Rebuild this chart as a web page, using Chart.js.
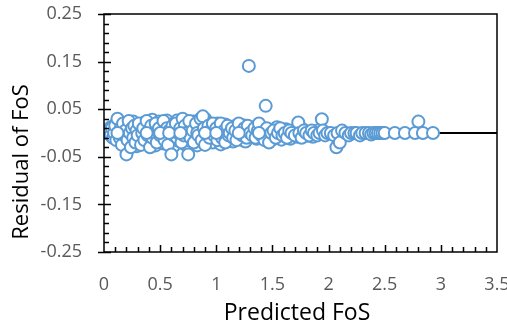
<!DOCTYPE html>
<html>
<head>
<meta charset="utf-8">
<script src="https://cdn.jsdelivr.net/npm/chart.js@4.4.0/dist/chart.umd.min.js"></script>
<style>
html, body { margin: 0; padding: 0; background: #fff; }
#wrap { width: 507px; height: 330px; }
</style>
</head>
<body>
<div id="wrap"><canvas id="chart" width="507" height="330"></canvas></div>
<script>
// values (later points are drawn on top)
const predictedFoS = [
    0.07, 0.10, 0.14, 0.17, 0.20, 0.23, 0.26, 0.29, 0.33, 0.36, 0.39, 0.43, 0.46, 0.49, 0.53, 0.56,
    0.59, 0.62, 0.65, 0.69, 0.72, 0.76, 0.80, 0.83, 0.87, 0.90, 0.94, 0.97, 1.01, 1.04, 1.08, 1.11,
    1.15, 1.18, 1.22, 1.25, 1.28, 1.33, 1.36, 1.39, 1.42, 1.46, 1.50, 1.54, 1.58, 1.62, 1.66, 1.69,
    1.72, 1.77, 1.81, 1.86, 1.91,
    0.06, 0.09, 0.11, 0.13, 0.16, 0.19, 0.21, 0.24, 0.27, 0.30, 0.32, 0.35, 0.37, 0.40, 0.42, 0.44,
    0.47, 0.50, 0.51, 0.55, 0.58, 0.60, 0.63, 0.66, 0.68, 0.70, 0.74, 0.78, 0.81, 0.85, 0.88, 0.92,
    0.96, 0.99, 1.02, 1.06, 1.09, 1.13, 1.16, 1.19, 1.21, 1.24, 1.26, 1.30,
    0.05, 0.06, 0.07, 0.08, 0.09, 0.10, 0.11, 0.12, 0.13, 0.14, 0.15, 0.16, 0.17, 0.18, 0.19, 0.20,
    0.21, 0.22, 0.23, 0.24, 0.25, 0.26, 0.27, 0.28, 0.29, 0.30,
    0.31, 0.33, 0.34, 0.35, 0.36, 0.38, 0.39, 0.40, 0.41, 0.42, 0.43, 0.45, 0.46, 0.47, 0.49, 0.50,
    0.52, 0.53, 0.54, 0.56, 0.57, 0.58, 0.60, 0.61, 0.62, 0.64, 0.65, 0.66, 0.68, 0.69, 0.70,
    0.71, 0.72, 0.73, 0.75, 0.76, 0.77, 0.79, 0.80, 0.82, 0.83, 0.84, 0.86, 0.87, 0.88, 0.89, 0.90,
    0.91, 0.93, 0.94, 0.95, 0.97, 0.98, 1.00, 1.01, 1.03, 1.04, 1.05, 1.07, 1.08, 1.10, 1.11, 1.12,
    1.14, 1.15, 1.17, 1.18, 1.20, 1.22, 1.23, 1.25, 1.27, 1.28, 1.30, 1.29,
    1.32, 1.34, 1.35, 1.37, 1.38, 1.40, 1.41, 1.43, 1.44, 1.45, 1.47, 1.49, 1.51, 1.53, 1.55, 1.57,
    1.59, 1.61, 1.63, 1.65, 1.67, 1.70, 1.73, 1.74, 1.76, 1.78, 1.80, 1.83, 1.85, 1.87, 1.90, 1.92,
    1.94, 1.95, 1.97, 1.99,
    2.02, 2.05, 2.07, 2.08, 2.10, 2.12, 2.15, 2.18, 2.20, 2.23, 2.25, 2.28, 2.30, 2.33, 2.36, 2.38,
    2.40, 2.42, 2.44, 2.46, 2.48, 2.50,
    2.59, 2.68, 2.77, 2.80, 2.84, 2.93,
    0.12, 0.38, 0.50, 0.58, 0.68, 0.90, 1.00, 1.20, 1.38
];
const residualFoS = [
    -0.008, 0.018, 0.020, 0.006, 0.020, -0.022, 0.024, -0.028, 0.012, 0.022, -0.020, 0.028, -0.026, 0.024, -0.022, 0.026,
    0.018, -0.028, 0.026, 0.004, -0.024, -0.016, 0.024, -0.026, 0.016, 0.030, 0.020, -0.020, 0.020, -0.024, 0.018, 0.012,
    -0.018, 0.010, -0.014, 0.016, -0.012, 0.012, -0.012, 0.010, 0.008, -0.010, -0.014, 0.012, -0.014, 0.008, -0.012, 0.006,
    -0.008, 0.008, -0.006, -0.008, 0.006,
    0.012, 0.002, 0.008, -0.012, 0.003, -0.018, 0.011, -0.003, -0.012, 0.008, 0.002, -0.020, 0.006, 0.013, -0.006, -0.014,
    0.004, 0.016, -0.012, 0.002, -0.008, 0.012, 0.004, -0.016, 0.022, -0.008, 0.004, 0.012, -0.006, 0.003, -0.012, 0.006,
    -0.004, 0.012, 0.004, -0.006, 0.008, -0.002, 0.014, 0.002, -0.010, 0.004, -0.018, 0.006,
    0.005, -0.005, 0.010, -0.010, 0.000, 0.015, -0.015, 0.030, 0.000, -0.010, 0.010, -0.025, 0.020, -0.005, 0.005, -0.045,
    -0.015, 0.025, 0.000, -0.030, 0.010, -0.010, 0.015, -0.020, 0.005, -0.005,
    0.020, -0.025, 0.000, 0.010, -0.015, 0.025, -0.005, 0.005, -0.030, 0.015, -0.010, 0.000, 0.020, -0.020, 0.010, -0.005,
    0.000, 0.025, -0.015, 0.010, -0.025, 0.005, -0.045, 0.015, -0.005, 0.020, -0.010, 0.000, 0.010, -0.020, 0.030,
    -0.005, 0.015, 0.000, -0.045, 0.025, -0.010, 0.005, -0.020, 0.020, 0.000, -0.005, 0.030, -0.015, 0.035, 0.010, -0.025,
    0.000, 0.015, -0.010, 0.005, 0.020, -0.005, 0.010, -0.015, 0.000, 0.020, -0.010, 0.005, -0.020, 0.015, -0.005, 0.000,
    0.010, -0.010, 0.005, -0.015, 0.020, 0.000, -0.005, 0.010, -0.010, 0.015, 0.000, 0.141,
    -0.005, 0.010, -0.010, 0.005, 0.020, -0.005, 0.000, -0.015, 0.057, 0.010, -0.020, 0.000, 0.005, -0.010, 0.000, 0.010,
    -0.005, 0.000, -0.010, 0.005, 0.000, -0.005, 0.022, 0.000, -0.010, 0.005, 0.000, -0.005, 0.005, 0.000, -0.005, 0.000,
    0.029, 0.005, -0.005, 0.000,
    0.000, -0.005, -0.030, 0.000, -0.020, 0.005, 0.000, -0.005, 0.000, 0.000, 0.000, -0.005, 0.000, 0.000, 0.000, -0.003,
    0.000, 0.000, 0.000, 0.000, 0.000, 0.000,
    0.000, 0.000, 0.000, 0.024, 0.000, 0.000,
    0.000, 0.000, 0.000, 0.000, 0.000, 0.000, 0.000, 0.000, 0.000
];
const xTickValues = [0, 0.5, 1, 1.5, 2, 2.5, 3, 3.5];
const yTickValues = [-0.25, -0.15, -0.05, 0.05, 0.15, 0.25];
const zeroLineX = [0, 3.5];
const zeroLineY = [0, 0];
const xTitle = 'Predicted FoS';
const yTitle = 'Residual of FoS';

const points = predictedFoS.map((x, i) => ({ x: x, y: residualFoS[i] }));
const zeroLine = zeroLineX.map((x, i) => ({ x: x, y: zeroLineY[i] }));

const FONT = '"Open Sans", sans-serif';

// frame, inner ticks and axis titles like the Excel chart
const framePlugin = {
    id: 'frame',
    afterDatasetsDraw(chart) {
        const ctx = chart.ctx;
        const a = chart.chartArea;
        const xs = chart.scales.x;
        const ys = chart.scales.y;
        ctx.save();
        ctx.strokeStyle = '#000';
        ctx.lineWidth = 1.5;
        ctx.strokeRect(a.left, a.top, a.right - a.left, a.bottom - a.top);

        ctx.beginPath();
        for (let i = 0; i <= 25; i++) {
            const py = Math.round(ys.getPixelForValue(-0.25 + i * 0.02)) + 0.5;
            if (i % 5 === 0) {
                ctx.moveTo(a.left - 6, py);
                ctx.lineTo(a.left + 7, py);
            } else {
                ctx.moveTo(a.left, py);
                ctx.lineTo(a.left + 5, py);
            }
        }
        for (let i = 1; i < 35; i++) {
            const px = Math.round(xs.getPixelForValue(i * 0.1)) + 0.5;
            ctx.moveTo(px, a.bottom);
            ctx.lineTo(px, a.bottom - (i % 5 === 0 ? 7 : 5));
        }
        ctx.stroke();

        ctx.fillStyle = '#000';
        ctx.font = '23px ' + FONT;
        ctx.textAlign = 'center';
        ctx.textBaseline = 'middle';
        ctx.fillText(xTitle, 297, 313);
        ctx.translate(22, 162);
        ctx.rotate(-Math.PI / 2);
        ctx.font = '22px ' + FONT;
        ctx.fillText(yTitle, 0, 0);
        ctx.restore();
    }
};

new Chart(document.getElementById('chart'), {
    type: 'scatter',
    data: {
        datasets: [
            {
                data: points,
                pointRadius: 6,
                pointBorderWidth: 2,
                pointBorderColor: '#5B9BD5',
                pointBackgroundColor: '#ffffff',
                borderColor: '#5B9BD5',
                backgroundColor: '#ffffff',
                order: 1
            },
            {
                type: 'line',
                data: zeroLine,
                showLine: true,
                pointRadius: 0,
                borderColor: '#000',
                borderWidth: 2,
                order: 2
            }
        ]
    },
    options: {
        responsive: false,
        animation: false,
        devicePixelRatio: 1,
        layout: { padding: { top: 14, right: 10, left: 0, bottom: 0 } },
        plugins: {
            legend: { display: false },
            tooltip: { enabled: false }
        },
        scales: {
            x: {
                type: 'linear',
                min: 0,
                max: 3.5,
                grid: { display: false, drawTicks: false },
                border: { display: false },
                afterBuildTicks: scale => { scale.ticks = xTickValues.map(v => ({ value: v })); },
                afterFit: scale => { scale.height = 78; scale.paddingLeft = 0; scale.paddingRight = 0; },
                ticks: {
                    color: '#595959',
                    font: { family: FONT, size: 18 },
                    padding: 22,
                    maxRotation: 0,
                    callback: v => String(v)
                }
            },
            y: {
                type: 'linear',
                min: -0.25,
                max: 0.25,
                grid: { display: false, drawTicks: false },
                border: { display: false },
                afterBuildTicks: scale => { scale.ticks = yTickValues.map(v => ({ value: v })); },
                afterFit: scale => { scale.width = 104; scale.paddingTop = 0; scale.paddingBottom = 0; },
                ticks: {
                    color: '#595959',
                    font: { family: FONT, size: 18 },
                    padding: 22,
                    callback: v => String(v)
                }
            }
        }
    },
    plugins: [framePlugin]
});
</script>
</body>
</html>
